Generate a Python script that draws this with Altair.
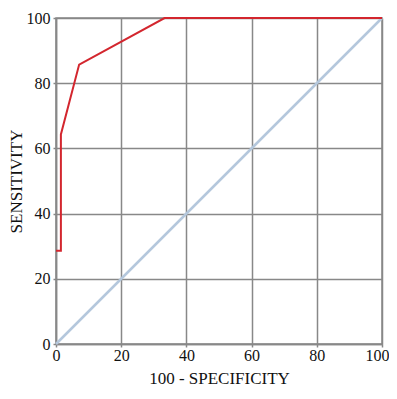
import altair as alt
import pandas as pd

roc_x = [0, 1.5, 1.5, 7.1, 33.3, 100]
roc_y = [28.6, 28.6, 64.3, 85.7, 100, 100]
diag_x = [0, 100]
diag_y = [0, 100]
ticks = [0, 20, 40, 60, 80, 100]

roc = pd.DataFrame({"x": roc_x, "y": roc_y, "o": range(len(roc_x))})
diag = pd.DataFrame({"x": diag_x, "y": diag_y})

font = "Liberation Serif"
xs = alt.Scale(domain=[0, 100], nice=False)
ys = alt.Scale(domain=[0, 100], nice=False)

xax = alt.Axis(
    values=ticks, title="100 - SPECIFICITY", grid=True,
    labelAlign={"condition": {"test": "datum.value == 100", "value": "right"}, "value": "center"},
    labelOffset=alt.ExprRef("datum.value == 100 ? 7 : 0"),
)
yax = alt.Axis(values=ticks, title="SENSITIVITY", grid=True)

d = alt.Chart(diag).mark_line(color="#b4c7dc", strokeWidth=2.5).encode(
    x=alt.X("x:Q", scale=xs, axis=xax),
    y=alt.Y("y:Q", scale=ys, axis=yax),
)
r = alt.Chart(roc).mark_line(color="#d3262e", strokeWidth=2).encode(
    x=alt.X("x:Q", scale=xs),
    y=alt.Y("y:Q", scale=ys),
    order="o:Q",
)

chart = (d + r).properties(
    width=326, height=326,
    autosize=alt.AutoSizeParams(type="none"),
    padding={"left": 48, "top": 10, "right": 7, "bottom": 43},
).configure_view(
    stroke="#888888", strokeWidth=1.5
).configure_axis(
    labelFont=font, titleFont=font, labelFontSize=16, titleFontSize=17,
    labelColor="#111111", titleColor="#111111", titleFontWeight="normal",
    gridColor="#888888", gridWidth=1.5, gridOpacity=1,
    domainColor="#888888", domainWidth=1.5,
    tickColor="#888888", tickSize=3, tickWidth=1.5,
    labelPadding=0, titlePadding=7,
).configure_axisY(labelPadding=3, titlePadding=1)

chart.save("out.html", embed_options={"renderer": "svg", "actions": False})
